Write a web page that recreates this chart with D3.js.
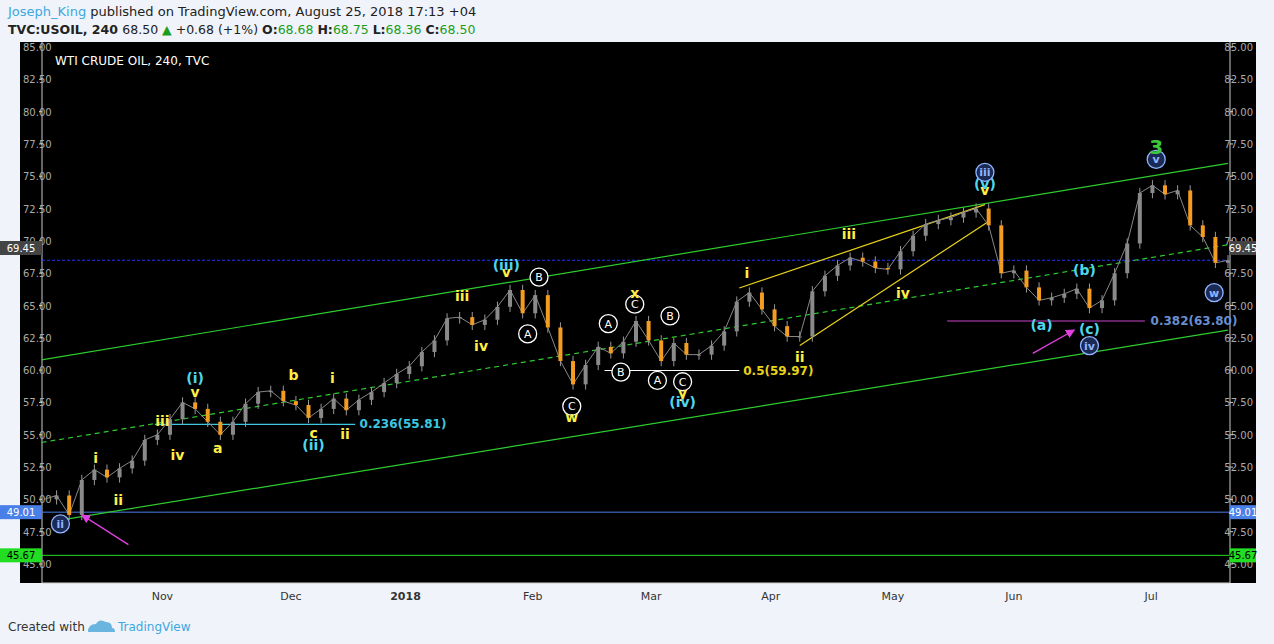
<!DOCTYPE html>
<html><head><meta charset="utf-8">
<script src="https://cdn.jsdelivr.net/npm/d3@7"></script>
<style>
body{margin:0;background:#f0f3fa;font-family:"DejaVu Sans",sans-serif;}
</style></head>
<body><svg id="c" width="1274" height="644"></svg>
<script>
// closes, one per bar index
var closes = [50,50.3,48.8,51.5,52.3,51.7,52.4,53,54.6,55,
56.2,57.5,57,56,55,56,57.4,58.3,58.4,57.6,
57.3,56.3,57,57.8,56.9,57.7,58.3,59,59.7,60.3,
61.4,62.3,64,64.1,63.5,63.9,64.9,66.2,64.4,65.8,
63.3,60.7,58.9,60.4,61.8,61.3,62.2,63.8,62.3,60.7,
62.1,61.2,61.2,61.9,63,65.3,66,64.7,63.4,62.6,
62.6,66.1,67.3,68.1,68.7,68.4,67.9,67.8,69.2,70.4,
71.3,71.6,71.8,72.2,72.5,71.2,67.5,67.7,66.4,65.4,
65.6,65.9,66.3,64.8,65.4,67.5,69.8,73.7,74.3,73.6,
73.9,71.2,70.3,68.3,68.5];
var monthTicks = [["Nov",9.4],["Dec",19.6],["2018",28.7],["Feb",38.8],["Mar",48.2],["Apr",57.7],["May",67.4],["Jun",77],["Jul",87.9]];
var priceTicks = [45,47.5,50,52.5,55,57.5,60,62.5,65,67.5,70,72.5,75,77.5,80,82.5,85];
// [x0,p0,x1,p1,color,dash]
var trendLines = [
 [-0.2,60.8,94,76.0,"#2ecc2e",""],
 [1.3,48.4,94,63.1,"#2ecc2e",""],
 [-0.2,54.4,94,69.7,"#2ecc2e","5,4"],
 [55.2,66.35,74.7,72.8,"#e8d31a",""],
 [60,61.9,74.9,71.45,"#e8d31a",""],
 [8.8,55.81,24.7,55.81,"#3cc8e0",""],
 [44.5,59.97,55.2,59.97,"#ffffff",""],
 [71.7,63.8,87.4,63.8,"#cc44cc",""]];
// [text, x, price, color, circled]
var waveLabels = [
 ["i",4.1,53.2,"#ffee44",0],["ii",5.9,49.95,"#ffee44",0],["iii",9.4,56.1,"#ffee44",0],["iv",10.6,53.4,"#ffee44",0],
 ["v",12,58.3,"#ffee44",0],["(i)",12,59.4,"#4fd6ee",0],["a",13.8,54.0,"#ffee44",0],["b",19.8,59.6,"#ffee44",0],
 ["c",21.4,55.1,"#ffee44",0],["(ii)",21.4,54.2,"#4fd6ee",0],["i",22.9,59.4,"#ffee44",0],["ii",23.9,55.05,"#ffee44",0],
 ["iii",33.2,65.7,"#ffee44",0],["iv",34.7,61.9,"#ffee44",0],["v",36.7,67.6,"#ffee44",0],["(iii)",36.7,68.1,"#4fd6ee",0],
 ["B",39.3,67.2,"#fff",1],["A",38.4,62.8,"#fff",1],["C",41.9,57.2,"#fff",1],["w",41.9,56.4,"#ffee44",0],
 ["A",44.8,63.6,"#fff",1],["B",45.8,59.85,"#fff",1],["C",46.9,65.1,"#fff",1],["x",46.9,66.0,"#ffee44",0],
 ["B",49.7,64.2,"#fff",1],["A",48.7,59.2,"#fff",1],["C",50.7,59.1,"#fff",1],["y",50.7,58.2,"#ffee44",0],
 ["(iv)",50.7,57.5,"#4fd6ee",0],["i",55.8,67.5,"#ffee44",0],["ii",60,61.0,"#ffee44",0],["iii",63.9,70.5,"#ffee44",0],
 ["iv",68.2,66.0,"#ffee44",0],["v",74.7,73.9,"#ffee44",0],["(v)",74.7,74.4,"#4fd6ee",0],["iii",74.7,75.3,"#8fb4ff",2],
 ["(a)",79.2,63.5,"#4fd6ee",0],["(b)",82.6,67.75,"#4fd6ee",0],["(c)",83,63.2,"#4fd6ee",0],["iv",83,61.9,"#8fb4ff",2],
 ["v",88.3,76.3,"#8fb4ff",2],["w",92.9,66.0,"#8fb4ff",2],["ii",1.3,48.1,"#8fb4ff",2]];
var fibLabels = [["0.236(55.81)",28.5,55.81,"#3cc8e0"],["0.5(59.97)",58.3,59.97,"#e8d31a"],["0.382(63.80)",91.3,63.80,"#6a8fd0"]];
var arrows = [[6.7,46.5,3.0,48.8],[78.5,61.3,81.8,63.1]];

var svg = d3.select("#c");
var x = d3.scaleLinear().domain([0,94]).range([44,1228]);
var y = d3.scaleLinear().domain([45,85]).range([564,47]);

svg.append("rect").attr("x",20).attr("y",42).attr("width",1236).attr("height",541).attr("fill","#000");
svg.append("line").attr("x1",42).attr("x2",42).attr("y1",42).attr("y2",583).attr("stroke","#ccc");
svg.append("line").attr("x1",1230).attr("x2",1230).attr("y1",42).attr("y2",583).attr("stroke","#ccc");
svg.append("line").attr("x1",42).attr("x2",1230).attr("y1",583).attr("y2",583).attr("stroke","#ccc");

// header
var h = svg.append("text").attr("x",8).attr("y",16).attr("font-size",13);
h.append("tspan").attr("fill","#3ba8e0").text("Joseph_King");
h.append("tspan").attr("fill","#222").text(" published on TradingView.com, August 25, 2018 17:13 +04");
var h2 = svg.append("text").attr("x",8).attr("y",34).attr("font-size",12.5).attr("font-weight","bold").attr("fill","#222");
h2.append("tspan").text("TVC:USOIL, 240 ");
h2.append("tspan").attr("font-weight","normal").text("68.50 ");
h2.append("tspan").attr("fill","#1a9e1a").text("▲");
h2.append("tspan").attr("font-weight","normal").text(" +0.68 (+1%) ");
[["O:","68.68"],["H:","68.75"],["L:","68.36"],["C:","68.50"]].forEach(function(d){
  h2.append("tspan").text(d[0]);
  h2.append("tspan").attr("fill","#1a9e1a").attr("font-weight","normal").text(d[1]+" ");
});
svg.append("text").attr("x",55).attr("y",65).attr("fill","#fff").attr("font-size",12).text("WTI CRUDE OIL, 240, TVC");

// price axes
priceTicks.forEach(function(p){
  [[23,"start"],[1253,"end"]].forEach(function(a){
    svg.append("text").attr("x",a[0]).attr("y",y(p)+4).attr("text-anchor",a[1]).attr("font-size",10).attr("fill","#aaa").text(p.toFixed(2));
  });
  svg.append("line").attr("x1",39).attr("x2",42).attr("y1",y(p)).attr("y2",y(p)).attr("stroke","#ccc");
  svg.append("line").attr("x1",1230).attr("x2",1233).attr("y1",y(p)).attr("y2",y(p)).attr("stroke","#ccc");
});
monthTicks.forEach(function(m){
  svg.append("text").attr("x",x(m[1])).attr("y",600).attr("text-anchor","middle").attr("font-size",11).attr("font-weight",m[0]=="2018"?"bold":"normal").attr("fill","#333").text(m[0]);
});

// horizontal levels
svg.append("line").attr("x1",42).attr("x2",1230).attr("y1",y(68.5)).attr("y2",y(68.5)).attr("stroke","#2233ff").attr("stroke-dasharray","3,2");
svg.append("line").attr("x1",20).attr("x2",1256).attr("y1",y(49.01)).attr("y2",y(49.01)).attr("stroke","#4a7fe8");
svg.append("line").attr("x1",20).attr("x2",1256).attr("y1",y(45.67)).attr("y2",y(45.67)).attr("stroke","#22dd22");

trendLines.forEach(function(l){
  svg.append("line").attr("x1",x(l[0])).attr("y1",y(l[1])).attr("x2",x(l[2])).attr("y2",y(l[3]))
    .attr("stroke",l[4]).attr("stroke-width",1.2).attr("stroke-dasharray",l[5]||null);
});

// candles
var line = d3.line().x(function(d,i){return x(i);}).y(function(d){return y(d);});
svg.append("path").datum(closes).attr("d",line).attr("fill","none").attr("stroke","#888").attr("stroke-width",1);
closes.forEach(function(c,i){
  if(i==0) return;
  var o = closes[i-1];
  var up = c>=o;
  svg.append("line").attr("x1",x(i)).attr("x2",x(i)).attr("y1",y(Math.max(o,c)+0.4)).attr("y2",y(Math.min(o,c)-0.4)).attr("stroke","#999");
  svg.append("rect").attr("x",x(i)-2).attr("width",4).attr("y",y(Math.max(o,c))).attr("height",Math.max(1,Math.abs(y(o)-y(c))))
    .attr("fill",up?"#8a8a8a":"#f39c1f");
});

// arrows
svg.append("defs").append("marker").attr("id","ah").attr("viewBox","0 0 10 10").attr("refX",9).attr("refY",5)
  .attr("markerWidth",7).attr("markerHeight",7).attr("orient","auto").append("path").attr("d","M0,0L10,5L0,10z").attr("fill","#e040e0");
arrows.forEach(function(a){
  svg.append("line").attr("x1",x(a[0])).attr("y1",y(a[1])).attr("x2",x(a[2])).attr("y2",y(a[3])).attr("stroke","#e040e0").attr("stroke-width",1.3).attr("marker-end","url(#ah)");
});

// wave labels
waveLabels.forEach(function(w){
  var cx = x(w[1]), cy = y(w[2]);
  if(w[4]){
    svg.append("circle").attr("cx",cx).attr("cy",cy).attr("r",9).attr("fill",w[4]==2?"#1a2a55":"#000").attr("stroke",w[3]).attr("stroke-width",1.3);
    svg.append("text").attr("x",cx).attr("y",cy+4).attr("text-anchor","middle").attr("font-size",11).attr("fill",w[3]).attr("font-weight",w[4]==2?"bold":"normal").text(w[0]);
  } else {
    svg.append("text").attr("x",cx).attr("y",cy+5).attr("text-anchor","middle").attr("font-size",14).attr("font-weight","bold").attr("fill",w[3]).text(w[0]);
  }
});
svg.append("text").attr("x",x(88.3)).attr("y",y(77.2)+6).attr("text-anchor","middle").attr("font-size",20).attr("font-weight","bold").attr("fill","#3cc83c").text("3");
fibLabels.forEach(function(f){
  svg.append("text").attr("x",x(f[1])).attr("y",y(f[2])+4).attr("text-anchor","middle").attr("font-size",12).attr("font-weight","bold").attr("fill",f[3]).text(f[0]);
});

// price badges
[[69.45,"#444","#fff"],[49.01,"#4a7fe8","#fff"],[45.67,"#22dd22","#000"]].forEach(function(b){
  [[0,42],[1230,1256]].forEach(function(s){
    svg.append("rect").attr("x",s[0]).attr("y",y(b[0])-7).attr("width",s[1]-s[0]).attr("height",14).attr("fill",b[1]);
    svg.append("text").attr("x",(s[0]+s[1])/2).attr("y",y(b[0])+4).attr("text-anchor","middle").attr("font-size",10).attr("fill",b[2]).text(b[0].toFixed(2));
  });
});

// footer
svg.append("text").attr("x",8).attr("y",631).attr("font-size",12).attr("fill","#333").text("Created with");
svg.append("text").attr("x",118).attr("y",631).attr("font-size",12).attr("fill","#3ba8e0").text("TradingView");
svg.append("path").attr("d","M88,632 q0,-8 8,-8 q3,-6 10,-2 q6,0 6,6 q3,0 3,4z").attr("fill","#6ab4e0");
</script></body></html>
